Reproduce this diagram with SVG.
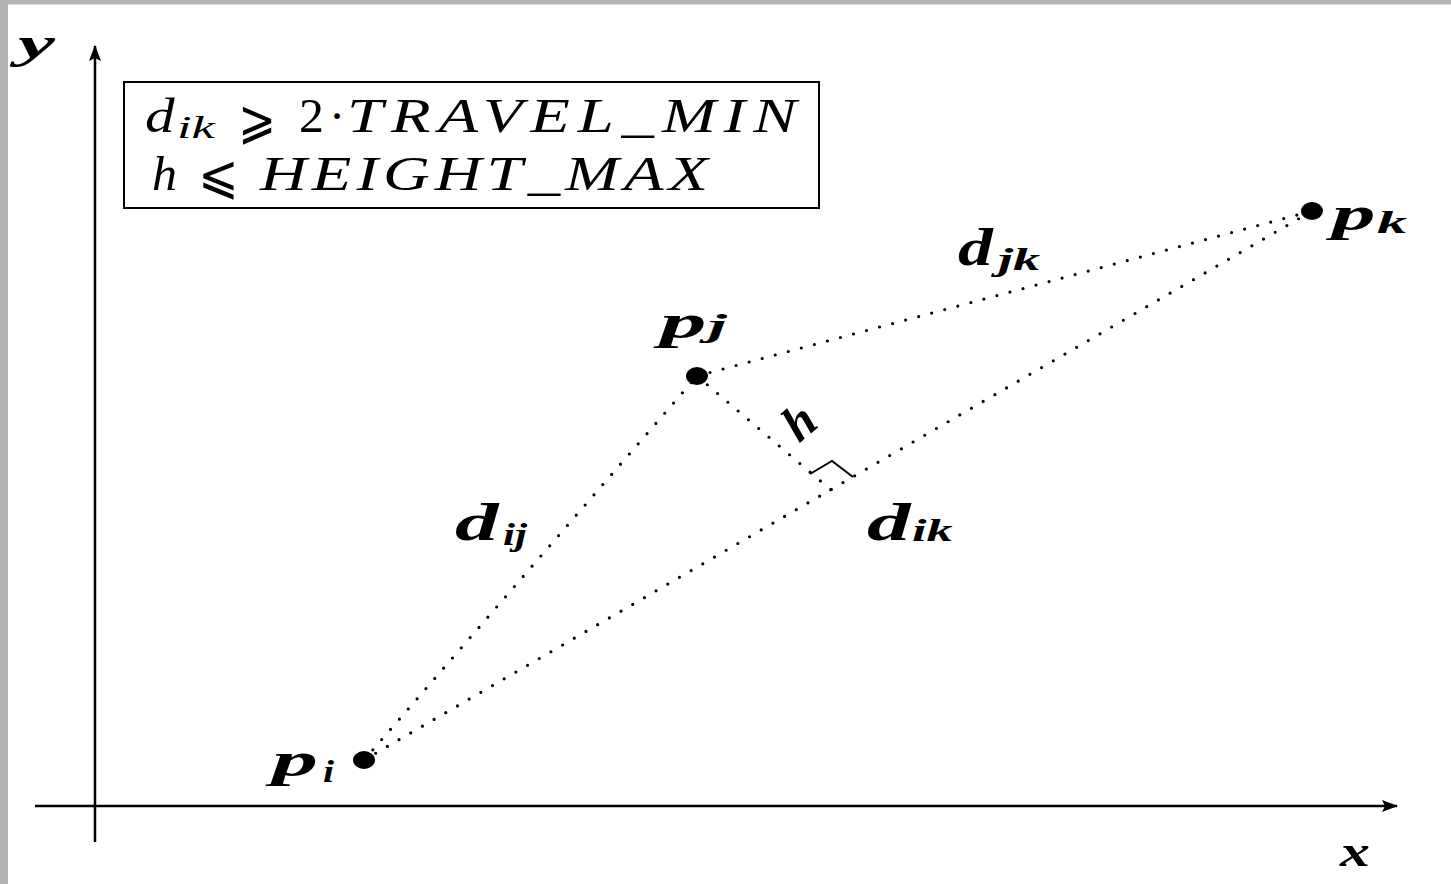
<svg xmlns="http://www.w3.org/2000/svg" width="1451" height="884" viewBox="0 0 1451 884">
<style>
.mi{font-family:"Liberation Serif","Times New Roman",serif;font-style:italic;fill:#000}
.rm{font-family:"Liberation Serif","Times New Roman",serif;fill:#000}
.op{font-family:"DejaVu Sans","DejaVu Serif",sans-serif;fill:#000}
.bl{font-family:"Liberation Serif","Times New Roman",serif;font-style:italic;font-weight:bold;fill:#000}
.dot{stroke:#000;stroke-width:3.2;stroke-linecap:round;stroke-dasharray:0 13.5;fill:none}
.axis{stroke:#000;stroke-width:2.5;fill:none}
</style>
<defs>
<marker id="arr" viewBox="0 0 16 12" refX="15" refY="6" markerWidth="16" markerHeight="12" markerUnits="userSpaceOnUse" orient="auto">
<path d="M0,0 L16,6 L0,12 L3,6 Z" fill="#000"/>
</marker>
</defs>
<rect x="0" y="0" width="1451" height="884" fill="#fff"/>
<rect x="0" y="0" width="1451" height="4.5" fill="#b3b3b3"/>
<rect x="0" y="0" width="8" height="884" fill="#b3b3b3"/>

<g id="axes">
<line class="axis" x1="95" y1="842" x2="95" y2="46" marker-end="url(#arr)"/>
<line class="axis" x1="35" y1="806" x2="1397" y2="806" marker-end="url(#arr)"/>
<text class="bl" font-size="44" textLength="25.5" lengthAdjust="spacingAndGlyphs" transform="translate(18,58) scale(1.45,1)">y</text>
<text class="bl" font-size="44" textLength="20.7" lengthAdjust="spacingAndGlyphs" transform="translate(1340,866) scale(1.45,1)">x</text>
</g>

<g id="constraints">
<rect x="124" y="82" width="695" height="126" fill="none" stroke="#000" stroke-width="2"/>
<text class="mi" font-size="48" textLength="22" lengthAdjust="spacingAndGlyphs" transform="translate(145,132) scale(1.35,1)">d</text>
<text class="mi" font-size="32" textLength="28" lengthAdjust="spacingAndGlyphs" transform="translate(177,138) scale(1.35,1)">ik</text>
<text class="op" font-size="54" textLength="28" lengthAdjust="spacingAndGlyphs" transform="translate(238,138) scale(1.35,1)">⩾</text>
<text class="rm" font-size="48" textLength="18.5" lengthAdjust="spacingAndGlyphs" transform="translate(299,132) scale(1.35,1)">2</text>
<text class="rm" font-size="48" text-anchor="middle" x="337" y="132">·</text>
<text class="mi" font-size="48" textLength="333" lengthAdjust="spacing" transform="translate(347,132) scale(1.35,1)">TRAVEL_MIN</text>
<text class="mi" font-size="48" textLength="18.5" lengthAdjust="spacingAndGlyphs" transform="translate(152,190) scale(1.35,1)">h</text>
<text class="op" font-size="54" textLength="30" lengthAdjust="spacingAndGlyphs" transform="translate(198,193) scale(1.35,1)">⩽</text>
<text class="mi" font-size="48" textLength="332" lengthAdjust="spacing" transform="translate(260,190) scale(1.35,1)">HEIGHT_MAX</text>
</g>

<g id="connectors">
<line id="dij" class="dot" x1="364" y1="760" x2="697" y2="376"/>
<line id="dik" class="dot" x1="364" y1="760" x2="1312" y2="211"/>
<line id="djk" class="dot" x1="697" y1="376" x2="1312" y2="211"/>
<line id="hline" class="dot" x1="697" y1="376" x2="831" y2="490"/>
<polyline points="810,474 832,461 853,477" fill="none" stroke="#000" stroke-width="2"/>
<text class="bl" font-size="52" textLength="30" lengthAdjust="spacingAndGlyphs" transform="translate(455,540) scale(1.45,1)">d</text>
<text class="bl" font-size="32" textLength="16.5" lengthAdjust="spacingAndGlyphs" transform="translate(503,545) scale(1.45,1)">ij</text>
<text class="bl" font-size="52" textLength="24" lengthAdjust="spacingAndGlyphs" transform="translate(958,265) scale(1.45,1)">d</text>
<text class="bl" font-size="32" textLength="29" lengthAdjust="spacingAndGlyphs" transform="translate(998,270) scale(1.45,1)">jk</text>
<text class="bl" font-size="52" textLength="30" lengthAdjust="spacingAndGlyphs" transform="translate(867,540) scale(1.45,1)">d</text>
<text class="bl" font-size="32" textLength="28" lengthAdjust="spacingAndGlyphs" transform="translate(912,541) scale(1.45,1)">ik</text>
<text class="bl" font-size="50" text-anchor="middle" transform="translate(800,423) rotate(-40)" y="15">h</text>
</g>

<g id="pi">
<ellipse cx="364" cy="760" rx="11" ry="9" fill="#000"/>
<text class="bl" font-size="48" textLength="31.7" lengthAdjust="spacingAndGlyphs" transform="translate(272,776) scale(1.45,1)">p</text>
<text class="bl" font-size="32" textLength="7.6" lengthAdjust="spacingAndGlyphs" transform="translate(323,782) scale(1.45,1)">i</text>
</g>
<g id="pj">
<ellipse cx="697" cy="376" rx="11" ry="9" fill="#000"/>
<text class="bl" font-size="48" textLength="32" lengthAdjust="spacingAndGlyphs" transform="translate(660,338) scale(1.45,1)">p</text>
<text class="bl" font-size="32" textLength="13" lengthAdjust="spacingAndGlyphs" transform="translate(708,336) scale(1.45,1)">j</text>
</g>
<g id="pk">
<ellipse cx="1312" cy="211" rx="11" ry="9" fill="#000"/>
<text class="bl" font-size="48" textLength="30" lengthAdjust="spacingAndGlyphs" transform="translate(1332,230) scale(1.45,1)">p</text>
<text class="bl" font-size="32" textLength="20.7" lengthAdjust="spacingAndGlyphs" transform="translate(1377,233) scale(1.45,1)">k</text>
</g>
</svg>
